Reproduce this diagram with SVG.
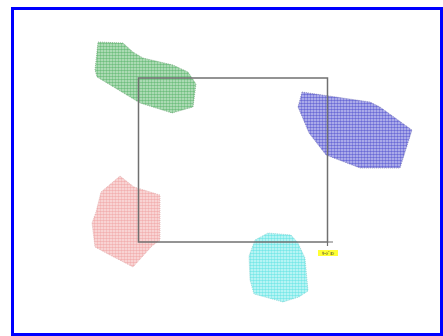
<svg xmlns="http://www.w3.org/2000/svg" width="443" height="336" viewBox="0 0 443 336">
<style>
.frame{fill:#fff;stroke:#0000ff;stroke-width:3}
.region{stroke-width:0.6;stroke-dasharray:1 1}
.sel{fill:none;stroke:#707070;stroke-width:1.5}
.lbl{font-family:"Noto Sans CJK JP","Liberation Sans",sans-serif;font-size:4px;font-weight:bold;fill:#333}
</style>
<defs>
<pattern id="pg" width="3" height="3" patternUnits="userSpaceOnUse"><rect width="3" height="3" fill="#c6e8cb"/><circle cx="1.5" cy="1.5" r="1.3" fill="#6fbe7e"/></pattern>
<pattern id="pb" width="3" height="3" patternUnits="userSpaceOnUse"><rect width="3" height="3" fill="#c8c8f2"/><circle cx="1.5" cy="1.5" r="1.3" fill="#6a6ad6"/></pattern>
<pattern id="pr" width="3" height="3" patternUnits="userSpaceOnUse"><rect width="3" height="3" fill="#fce4e4"/><circle cx="1.5" cy="1.5" r="1.3" fill="#f2b0b0"/></pattern>
<pattern id="pc" width="3" height="3" patternUnits="userSpaceOnUse"><rect width="3" height="3" fill="#d4fafa"/><circle cx="1.5" cy="1.5" r="1.3" fill="#76e8e8"/></pattern>
</defs>
<rect class="frame" x="12.5" y="8.5" width="429" height="326"/>
<g id="green">
<polygon class="region" fill="url(#pg)" stroke="#6a9a70" points="98,42 123,43 133,52 143,58 173,65 188,72 196,84 193,107 172,113 140,103 97,77 95,70"/>
</g>
<g id="blue">
<polygon class="region" fill="url(#pb)" stroke="#6a6aa8" points="302,92 370,102 380,107 412,130 400,168 360,168 326,155 309,133 298,107"/>
</g>
<g id="red">
<polygon class="region" fill="url(#pr)" stroke="#d8a0a0" points="120,176 134,187 160,195 160,240 152,246 133,267 108,254 95,247 92,223 96,212 101,192"/>
</g>
<g id="cyan">
<polygon class="region" fill="url(#pc)" stroke="#80c8c8" points="255,240 268,233 291,235 298,243 305,258 308,291 299,297 283,302 254,294 250,280 249,256"/>
</g>
<g id="selection">
<rect class="sel" x="138.5" y="78" width="189" height="164"/>
<path d="M327.5 242 V246 M327.5 242 H333" stroke="#707070" stroke-width="1.2" fill="none"/>
<rect x="318" y="250" width="20" height="6" fill="#ffff33"/>
<text class="lbl" x="328" y="254.8" text-anchor="middle">ﾘｰｼﾞｮﾝ</text>
</g>
</svg>
